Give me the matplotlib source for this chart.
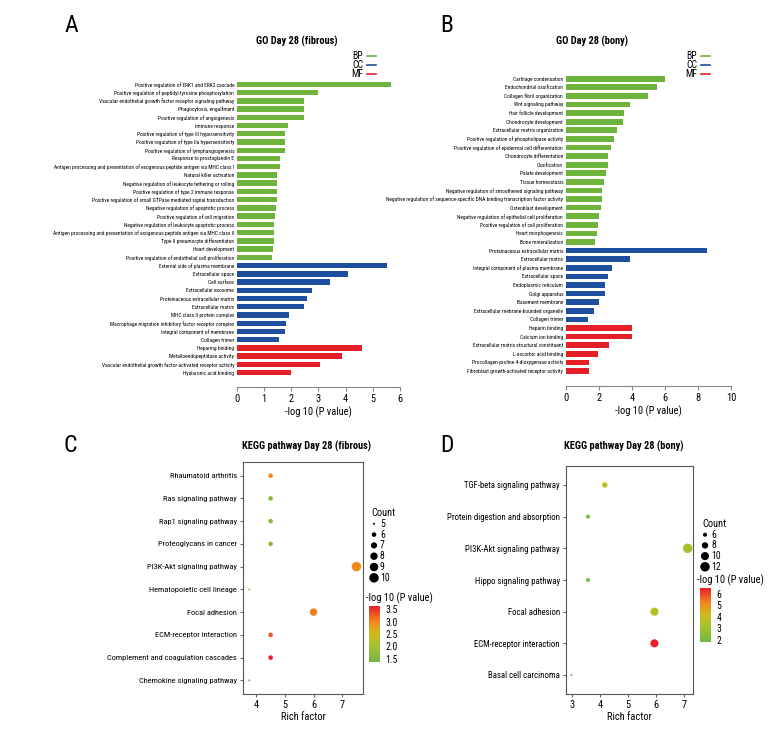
import numpy as np
import matplotlib
matplotlib.use('Agg')
import matplotlib.pyplot as plt
from matplotlib import font_manager as fm
from matplotlib.colors import LinearSegmentedColormap, Normalize
from matplotlib.cm import ScalarMappable
from matplotlib.lines import Line2D

# the original uses a condensed face; take the narrowest installed sans we can find
def pick_condensed():
    best, best_score = None, None
    for f in fm.fontManager.ttflist:
        nm = (f.name + ' ' + f.fname).lower()
        if f.style != 'normal' or 'mono' in nm or 'serif' in nm.replace('sans-serif', ''):
            continue
        if f.weight not in (400, 'normal', 'regular', 'book'):
            continue
        narrow = 'narrow' in nm or 'condensed' in nm or f.stretch in (
            'condensed', 'semi-condensed', 'extra-condensed')
        if not narrow or 'extra' in nm or 'ultra' in nm:
            continue
        score = 0
        if 'liberation' in nm:
            score -= 5
        if 'roboto' in nm:
            score -= 4
        if 'semi' in nm:
            score += 3
        if best_score is None or score < best_score:
            best, best_score = f, score
    return best


cf = pick_condensed()
if cf is not None:
    plt.rcParams['font.family'] = [cf.name, 'DejaVu Sans']
    plt.rcParams['font.stretch'] = cf.stretch if cf.stretch != 'normal' else 'condensed'
else:
    plt.rcParams['font.family'] = ['DejaVu Sans']

W, H = 780, 750

# ---- GO Day 28 (fibrous) ----
fib_bp = ['Positive regulation of ERK1 and ERK2 cascade',
          'Positive regulation of peptidyl-tyrosine phosphorylation',
          'Vascular endothelial growth factor receptor signaling pathway',
          'Phagocytosis, engulfment',
          'Positive regulation of angiogenesis',
          'Immune response',
          'Positive regulation of type III hypersensitivity',
          'Positive regulation of type IIa hypersensitivity',
          'Positive regulation of lymphangiogenesis',
          'Response to prostaglandin E',
          'Antigen processing and presentation of exogenous peptide antigen via MHC class I',
          'Natural killer activation',
          'Negative regulation of leukocyte tethering or rolling',
          'Positive regulation of type 2 immune response',
          'Positive regulation of small GTPase mediated signal transduction',
          'Negative regulation of apoptotic process',
          'Positive regulation of cell migration',
          'Negative regulation of leukocyte apoptotic process',
          'Antigen processing and presentation of exogenous peptide antigen via MHC class II',
          'Type II pneumocyte differentiaton',
          'Heart development',
          'Positive regulation of endothelial cell proliferation']
fib_bp_val = [5.67, 2.98, 2.47, 2.47, 2.47, 1.89, 1.76, 1.76, 1.76, 1.59, 1.59,
              1.46, 1.46, 1.46, 1.46, 1.43, 1.39, 1.38, 1.38, 1.38, 1.34, 1.30]
fib_cc = ['External side of plasma membrane', 'Extracellular space', 'Cell surface',
          'Extracellular exosome', 'Proteinaceous extracellular matrix',
          'Extracellular matrix', 'MHC class II protein complex',
          'Macrophage migration inhibitory factor receptor complex',
          'Integral component of membrane', 'Collagen trimer']
fib_cc_val = [5.52, 4.08, 3.42, 2.76, 2.57, 2.47, 1.92, 1.80, 1.75, 1.53]
fib_mf = ['Heparing binding', 'Metalloendopeptidase activity',
          'Vascular endothelial growth factor-activated receptor activity',
          'Hyaluronic acid binding']
fib_mf_val = [4.61, 3.85, 3.05, 1.98]

# ---- GO Day 28 (bony) ----
bony_bp = ['Cartilage condensation', 'Endochondrial ossification',
           'Collagen fibril organization', 'Wnt signaling pathway',
           'Hair follicle development', 'Chondrocyte development',
           'Extracellular matrix organization',
           'Positive regulation of phospholipase activity',
           'Positive regulation of epidermal cell differentation',
           'Chondrocyte differentation', 'Ossification', 'Palate development',
           'Tissue homeostasis',
           'Negative regulation of smoothened signaling pathway',
           'Negative regulation of sequence-specific DNA binding transcription factor activity',
           'Osteoblast development',
           'Negative regulation of epithelial cell proliferation',
           'Positive regulation of cell proliferation', 'Heart morphogenesis',
           'Bone mineralization']
bony_bp_val = [6.01, 5.52, 4.94, 3.89, 3.53, 3.43, 3.08, 2.90, 2.74, 2.56,
               2.52, 2.42, 2.28, 2.20, 2.16, 2.12, 2.02, 1.96, 1.88, 1.73]
bony_cc = ['Protainaceous extracellular matrix', 'Extracellular matrix',
           'Integral component of plasma membrane', 'Extracellular space',
           'Endoplasmic reticulum', 'Golgi apparatus', 'Basement membrane',
           'Extracellular mebrane-bounded organelle', 'Collagen trimer']
bony_cc_val = [8.57, 3.89, 2.78, 2.52, 2.38, 2.38, 2.00, 1.71, 1.35]
bony_mf = ['Heparin binding', 'Calcium ion binding',
           'Extracellular matrix structural constituent', 'L-ascorbic acid binding',
           'Procollagen-proline 4-dioxygenase activity',
           'Fibroblast growth-activated receptor activity']
bony_mf_val = [4.01, 3.99, 2.62, 1.92, 1.41, 1.41]

# ---- KEGG fibrous ----
kf_terms = ['Rhaumatoid arthritis', 'Ras signaling pathway', 'Rap1 signaling pathway',
            'Proteoglycans in cancer', 'PI3K-Akt signaling pathway',
            'Hematopoietic cell lineage', 'Focal adhesion', 'ECM-receptor interaction',
            'Complement and coagulation cascades', 'Chemokine signaling pathway']
kf_rich = [4.5, 4.5, 4.5, 4.5, 7.5, 3.75, 6.0, 4.5, 4.5, 3.75]
kf_count = [6, 6, 6, 6, 10, 5, 8, 6, 6, 5]
kf_logp = [3.0, 1.72, 1.72, 1.72, 2.98, 2.15, 3.05, 3.28, 3.6, 1.6]

# ---- KEGG bony ----
kb_terms = ['TGF-beta signaling pathway', 'Protein digestion and absorption',
            'PI3K-Akt signaling pathway', 'Hippo signaling pathway', 'Focal adhesion',
            'ECM-receptor interaction', 'Basal cell carcinoma']
kb_rich = [4.17, 3.57, 7.14, 3.57, 5.95, 5.95, 2.98]
kb_count = [7, 6, 12, 6, 10, 10, 5]
kb_logp = [3.9, 2.05, 3.2, 2.05, 3.6, 6.5, 1.9]

GREEN, BLUE, RED = '#6db33c', '#1d4f9e', '#e51f28'
cmap = LinearSegmentedColormap.from_list(
    'gy_r', [(0.0, '#72b844'), (0.3, '#a6c12e'), (0.5, '#cbbc1a'),
             (0.72, '#f08a1e'), (1.0, '#e8202a')])

fig = plt.figure(figsize=(W / 100, H / 100), dpi=100)


def add_ax(x0, y0, x1, y1):
    return fig.add_axes([x0 / W, 1 - y1 / H, (x1 - x0) / W, (y1 - y0) / H])


def fx(x):
    return x / W


def fy(y):
    return 1 - y / H


def fit_labels(ax, target, maxsize):
    # shrink y labels so the longest one is as wide as in the original
    fig.canvas.draw()
    r = fig.canvas.get_renderer()
    labs = ax.get_yticklabels()
    w = max(t.get_window_extent(r).width for t in labs)
    new = min(maxsize, labs[0].get_fontsize() * target / w)
    for t in labs:
        t.set_fontsize(new)


def go_panel(box, bp, bpv, cc, ccv, mf, mfv, xmax, xticks, title, title_xy, leg_x,
             lab_w):
    ax = add_ax(*box)
    terms = bp + cc + mf
    vals = bpv + ccv + mfv
    cols = [GREEN] * len(bp) + [BLUE] * len(cc) + [RED] * len(mf)
    y = np.arange(len(terms))
    ax.barh(y, vals, height=0.66, color=cols)
    ax.set_ylim(len(terms) - 0.5, -0.5)
    ax.set_xlim(0, xmax)
    ax.set_yticks(y)
    ax.set_yticklabels(terms, fontsize=5)
    ax.tick_params(axis='y', length=0, pad=2)
    ax.set_xticks(xticks)
    ax.tick_params(axis='x', labelsize=7.5, length=3, color='#888888', pad=2)
    for s in ['left', 'right', 'top']:
        ax.spines[s].set_visible(False)
    ax.spines['bottom'].set_position(('outward', 7.5))
    ax.spines['bottom'].set_color('#888888')
    ax.spines['bottom'].set_linewidth(0.8)
    ax.set_xlabel('-log 10 (P value)', fontsize=7.5, labelpad=2)
    fig.text(fx(title_xy[0]), fy(title_xy[1]), title, fontsize=7.5, fontweight='bold',
             ha='center', va='center')
    for lab, c, yy in zip(['BP', 'CC', 'MF'], [GREEN, BLUE, RED], [56, 65, 74]):
        fig.text(fx(leg_x), fy(yy), lab, fontsize=7, ha='right', va='center')
        fig.add_artist(Line2D([fx(leg_x + 4), fx(leg_x + 13)], [fy(yy), fy(yy)],
                              color=c, lw=1.2))
    fit_labels(ax, lab_w, 5.5)
    return ax


go_panel((237, 80.2, 400, 376.8), fib_bp, fib_bp_val, fib_cc, fib_cc_val, fib_mf,
         fib_mf_val, 6, range(0, 7), 'GO Day 28 (fibrous)', (297, 41), 363, 186)
go_panel((566, 74.4, 731, 375.3), bony_bp, bony_bp_val, bony_cc, bony_cc_val, bony_mf,
         bony_mf_val, 10, range(0, 11, 2), 'GO Day 28 (bony)', (592, 41), 697, 178)


def size_map(c, cmin, k):
    # marker area in pt^2 (ggplot-style area scaling)
    d = np.sqrt(4 + (np.asarray(c, float) - cmin) * k)
    return (0.72 * d) ** 2


def kegg_panel(box, terms, rich, count, logp, xlim, xticks, vrange, cmin, k,
               title, title_xy, leg, lab_w):
    ax = add_ax(*box)
    y = np.arange(len(terms))
    norm = Normalize(*vrange)
    ax.scatter(rich, y, s=size_map(count, cmin, k), c=logp, cmap=cmap, norm=norm,
               edgecolors='none', zorder=3)
    ax.set_ylim(len(terms) - 0.4, -0.6)
    ax.set_xlim(*xlim)
    ax.set_yticks(y)
    ax.set_yticklabels(terms, fontsize=8)
    ax.set_xticks(xticks)
    ax.tick_params(labelsize=7.5, length=2.5, color='#666666', pad=2)
    for s in ax.spines.values():
        s.set_color('#555555')
        s.set_linewidth(0.8)
    ax.set_xlabel('Rich factor', fontsize=7.5, labelpad=1)
    fig.text(fx(title_xy[0]), fy(title_xy[1]), title, fontsize=7.5, fontweight='bold',
             ha='center', va='center')

    # size legend
    lx, ly, lvals, lstep, cb_box, cb_ticks = leg
    fig.text(fx(lx - 3), fy(ly), 'Count', fontsize=7.5, ha='left', va='center')
    lax = fig.add_axes([0, 0, 1, 1], facecolor='none')
    lax.set_xlim(0, W)
    lax.set_ylim(H, 0)
    lax.axis('off')
    ys = [ly + lstep * (i + 1) for i in range(len(lvals))]
    lax.scatter([lx] * len(lvals), ys, s=size_map(lvals, cmin, k), color='black',
                edgecolors='none')
    for v, yy in zip(lvals, ys):
        lax.text(lx + 6, yy, str(v), fontsize=7, ha='left', va='center')

    # colour bar
    cax = add_ax(*cb_box)
    cb = fig.colorbar(ScalarMappable(norm=norm, cmap=cmap), cax=cax)
    cb.outline.set_visible(False)
    cb.set_ticks(cb_ticks)
    cax.tick_params(labelsize=7, length=2, color='white', pad=2)
    fig.text(fx(cb_box[0] - 3), fy(cb_box[1] - 8), '-log 10 (P value)', fontsize=7.5,
             ha='left', va='center')
    fit_labels(ax, lab_w, 8.5)
    return ax


kegg_panel((243, 462, 363, 694), kf_terms, kf_rich, kf_count, kf_logp,
           (3.535, 7.73), [4, 5, 6, 7], (1.38, 3.62), 5, 17.2,
           'KEGG pathway Day 28 (fibrous)', (306, 446),
           (374, 513, [5, 6, 7, 8, 9, 10], 10.8, (369, 606, 380, 662),
            [1.5, 2.0, 2.5, 3.0, 3.5]), 131)
kegg_panel((566, 466, 693, 694), kb_terms, kb_rich, kb_count, kb_logp,
           (2.785, 7.33), [3, 4, 5, 6, 7], (1.8, 6.5), 5, 12.3,
           'KEGG pathway Day 28 (bony)', (624, 446),
           (705, 524, [6, 8, 10, 12], 10.7, (700, 588, 711, 642),
            [2, 3, 4, 5, 6]), 112)

for lab, x, y in [('A', 71, 25), ('B', 447, 25), ('C', 70, 445), ('D', 447, 445)]:
    fig.text(fx(x), fy(y), lab, fontsize=17, ha='center', va='center')

fig.savefig('out.png', dpi=100, facecolor='white')
